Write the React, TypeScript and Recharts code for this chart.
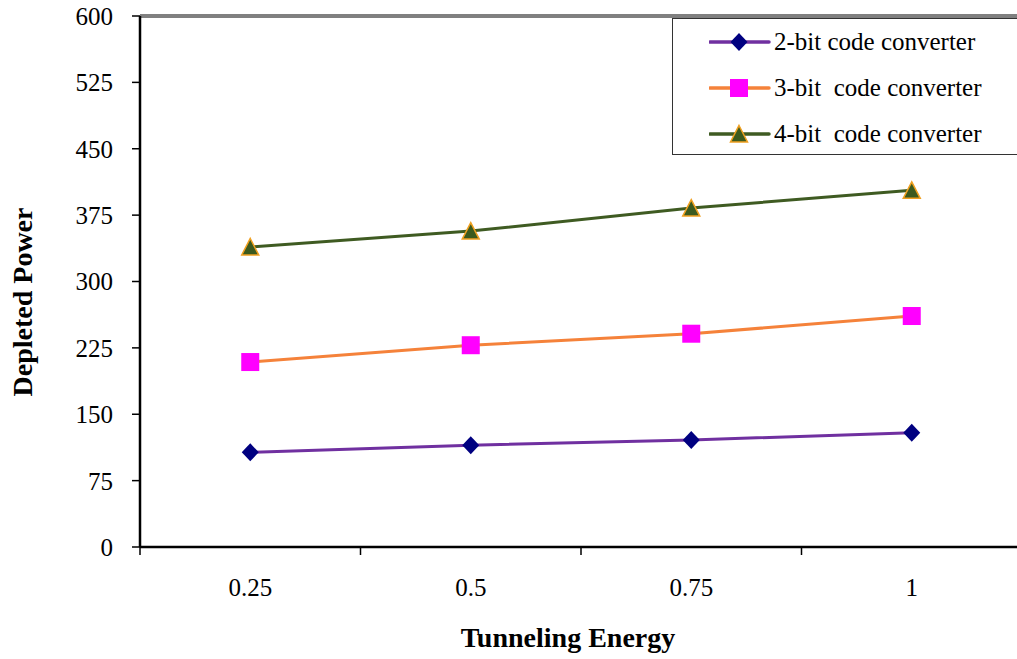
import React from 'react';
import { LineChart, Line, XAxis, YAxis, ReferenceLine, Legend } from 'recharts';

const energies = [0.25, 0.5, 0.75, 1];
const bit2 = [107, 115, 121, 129];
const bit3 = [209, 228, 241, 261];
const bit4 = [339, 357, 383, 403];
const yTicks = [0, 75, 150, 225, 300, 375, 450, 525, 600];
const bandEdges = [0.125, 0.375, 0.625, 0.875, 1.125];
const seriesNames = ['2-bit code converter', '3-bit  code converter', '4-bit  code converter'];
const xTitle = 'Tunneling Energy';
const yTitle = 'Depleted Power';

const data = energies.map((e, i) => ({ e, b2: bit2[i], b3: bit3[i], b4: bit4[i] }));
const xTickValues = [...bandEdges, ...energies].sort((a, b) => a - b);

const FONT = '"Liberation Serif", "Times New Roman", serif';
const LINE2 = '#7030A0';
const LINE3 = '#F5823A';
const LINE4 = '#3F5B22';
const MARK2 = '#000080';
const MARK3 = '#FF00FF';
const MARK4 = '#3C5A1E';
const MARK4S = '#F0A020';

const Diamond = ({ cx, cy }: any) => (
  <path d={`M${cx},${cy - 9} L${cx + 8.5},${cy} L${cx},${cy + 9} L${cx - 8.5},${cy} Z`} fill={MARK2} />
);
const Square = ({ cx, cy }: any) => (
  <rect x={cx - 9} y={cy - 9} width={18} height={18} fill={MARK3} />
);
const Triangle = ({ cx, cy }: any) => (
  <path d={`M${cx},${cy - 8.5} L${cx + 8.5},${cy + 8} L${cx - 8.5},${cy + 8} Z`} fill={MARK4} stroke={MARK4S} strokeWidth={1.5} />
);

// Band-edge values get a tick mark only; category values get a label only.
const XTick = ({ x, y, payload }: any) => {
  const v = payload.value;
  if (energies.includes(v)) {
    return (
      <text x={x} y={y + 40} textAnchor="middle" dominantBaseline="central" style={{ fontFamily: FONT, fontSize: 25 }} fill="#000">
        {String(v)}
      </text>
    );
  }
  return <line x1={x} y1={y} x2={x} y2={y + 8} stroke="#000" strokeWidth={1.5} />;
};

const legendItems = [
  { name: seriesNames[0], color: LINE2, Marker: Diamond },
  { name: seriesNames[1], color: LINE3, Marker: Square },
  { name: seriesNames[2], color: LINE4, Marker: Triangle },
];

const LegendBox = () => (
  <div
    style={{
      width: 360,
      height: 137,
      border: '1.5px solid #333',
      borderRight: 'none',
      background: '#fff',
      boxSizing: 'border-box',
      position: 'relative',
    }}
  >
    {legendItems.map((it, i) => (
      <div
        key={it.name}
        style={{ position: 'absolute', left: 36, top: 5 + i * 46, height: 36, display: 'flex', alignItems: 'center' }}
      >
        <svg width={62} height={24} style={{ display: 'block' }}>
          <line x1={1} y1={12} x2={60} y2={12} stroke={it.color} strokeWidth={3.5} strokeLinecap="round" />
          <it.Marker cx={30} cy={12} />
        </svg>
        <span style={{ fontFamily: FONT, fontSize: 25, color: '#000', whiteSpace: 'pre', marginLeft: 3 }}>{it.name}</span>
      </div>
    ))}
  </div>
);

export default function App() {
  return (
    <div style={{ position: 'absolute', left: 0, top: 0, width: 1017, height: 659, overflow: 'hidden', background: '#fff' }}>
      <LineChart width={1030} height={659} data={data} margin={{ top: 16, right: 8, left: 60, bottom: 0 }}>
        <XAxis
          type="number"
          dataKey="e"
          domain={[0.125, 1.125]}
          ticks={xTickValues}
          tickLine={false}
          tickSize={0}
          tickMargin={0}
          axisLine={{ stroke: '#000', strokeWidth: 2.5 }}
          tick={<XTick />}
          height={112}
          interval={0}
          allowDataOverflow
        />
        <YAxis
          type="number"
          domain={[0, 600]}
          ticks={yTicks}
          width={80}
          tickSize={8}
          tickMargin={19}
          tickLine={{ stroke: '#000', strokeWidth: 1.5 }}
          axisLine={{ stroke: '#000', strokeWidth: 2.5 }}
          tick={{ fontFamily: FONT, fontSize: 25, fill: '#000' }}
          interval={0}
        />
        <ReferenceLine y={600} stroke="#808080" strokeWidth={4} />
        <Legend
          layout="horizontal"
          verticalAlign="middle"
          align="center"
          content={() => <LegendBox />}
          wrapperStyle={{ position: 'absolute', left: 672, top: 18, width: 360, height: 137 }}
        />
        <Line dataKey="b2" name={seriesNames[0]} stroke={LINE2} strokeWidth={3} dot={<Diamond />} isAnimationActive={false} />
        <Line dataKey="b3" name={seriesNames[1]} stroke={LINE3} strokeWidth={3} dot={<Square />} isAnimationActive={false} />
        <Line dataKey="b4" name={seriesNames[2]} stroke={LINE4} strokeWidth={3} dot={<Triangle />} isAnimationActive={false} />
      </LineChart>
      <svg width={1017} height={659} style={{ position: 'absolute', left: 0, top: 0, pointerEvents: 'none' }}>
        <text
          x={568}
          y={637}
          textAnchor="middle"
          dominantBaseline="central"
          style={{ fontFamily: FONT, fontSize: 28, fontWeight: 'bold' }}
        >
          {xTitle}
        </text>
        <text
          x={22}
          y={302}
          textAnchor="middle"
          dominantBaseline="central"
          transform="rotate(-90 22 302)"
          style={{ fontFamily: FONT, fontSize: 28, fontWeight: 'bold' }}
        >
          {yTitle}
        </text>
      </svg>
    </div>
  );
}
